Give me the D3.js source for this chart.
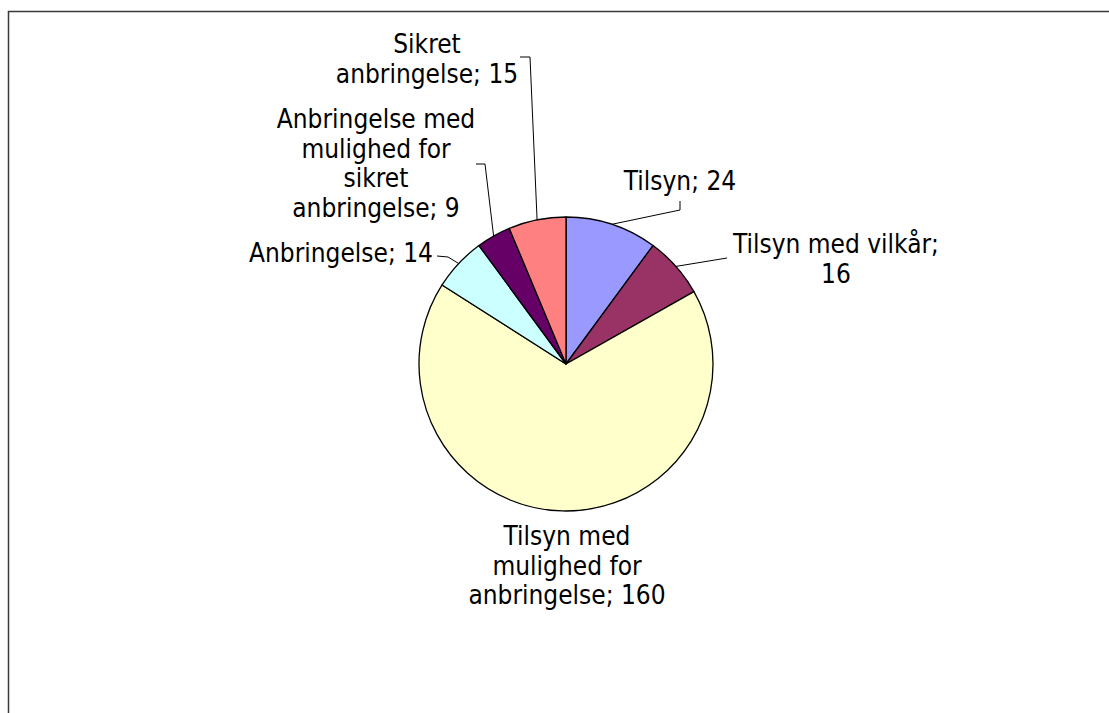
<!DOCTYPE html>
<html>
<head>
<meta charset="utf-8">
<script src="https://cdnjs.cloudflare.com/ajax/libs/d3/7.8.5/d3.min.js"></script>
<style>
  html, body { margin: 0; padding: 0; background: #fff; }
  svg { display: block; }
  .lbl { font-family: "DejaVu Sans Condensed", "DejaVu Sans", sans-serif; font-stretch: condensed; font-size: 26px; fill: #000; }
</style>
</head>
<body>
<svg width="1109" height="713"></svg>
<script>
// data, clockwise from 12 o'clock
const categories = ['Tilsyn', 'Tilsyn med vilkår', 'Tilsyn med mulighed for anbringelse',
                    'Anbringelse', 'Anbringelse med mulighed for sikret anbringelse', 'Sikret anbringelse']
const values = [24, 16, 160, 14, 9, 15]
const colors = ['#9999FF', '#993366', '#FFFFCC', '#CCFFFF', '#660066', '#FF8080']

// label text lines and where they sit (layout only)
const labelLines = [
    ['Tilsyn; 24'],
    ['Tilsyn med vilkår;', '16'],
    ['Tilsyn med', 'mulighed for', 'anbringelse; 160'],
    ['Anbringelse; 14'],
    ['Anbringelse med', 'mulighed for', 'sikret', 'anbringelse; 9'],
    ['Sikret', 'anbringelse; 15']
]
const labelPos = [
    { x: 680, y: 190 },
    { x: 836, y: 253 },
    { x: 567, y: 545 },
    { x: 341, y: 262 },
    { x: 376, y: 128 },
    { x: 427, y: 53 }
]
// leader: elbow and end point near label, null = no leader
const leaders = [
    [[680, 210], [680, 201]],
    [[727, 258]],
    null,
    [[448, 257], [437, 256]],
    [[485, 164], [476, 164]],
    [[530, 57], [520, 57]]
]
const lineHeight = 29.5

const svg = d3.select('svg')
const cx = 566, cy = 364, radius = 147

// frame
svg.append('rect').attr('x', 8.5).attr('y', 11.5).attr('width', 1200).attr('height', 800)
   .attr('fill', 'none').attr('stroke', '#3a3a3a').attr('stroke-width', 1.5)

const pie = d3.pie().sort(null).value(d => d)
const arcs = pie(values)
const arc = d3.arc().innerRadius(0).outerRadius(radius)

const g = svg.append('g').attr('transform', `translate(${cx},${cy})`)
g.selectAll('path').data(arcs).enter().append('path')
   .attr('d', arc)
   .attr('fill', (_, i) => colors[i])
   .attr('stroke', '#000').attr('stroke-width', 1.3).attr('stroke-linejoin', 'round')

// leader lines from the slice edge at its mid angle
arcs.forEach((a, i) => {
    if (!leaders[i]) return
    const mid = (a.startAngle + a.endAngle) / 2
    const start = [cx + radius * Math.sin(mid), cy - radius * Math.cos(mid)]
    svg.append('path')
       .attr('d', d3.line()([start, ...leaders[i]]))
       .attr('fill', 'none').attr('stroke', '#000').attr('stroke-width', 1)
})

// labels
labelLines.forEach((lines, i) => {
    const t = svg.append('text').attr('class', 'lbl').attr('text-anchor', 'middle')
    lines.forEach((line, j) => {
        t.append('tspan').attr('x', labelPos[i].x).attr('y', labelPos[i].y + j * lineHeight).text(line)
    })
})
</script>
</body>
</html>
